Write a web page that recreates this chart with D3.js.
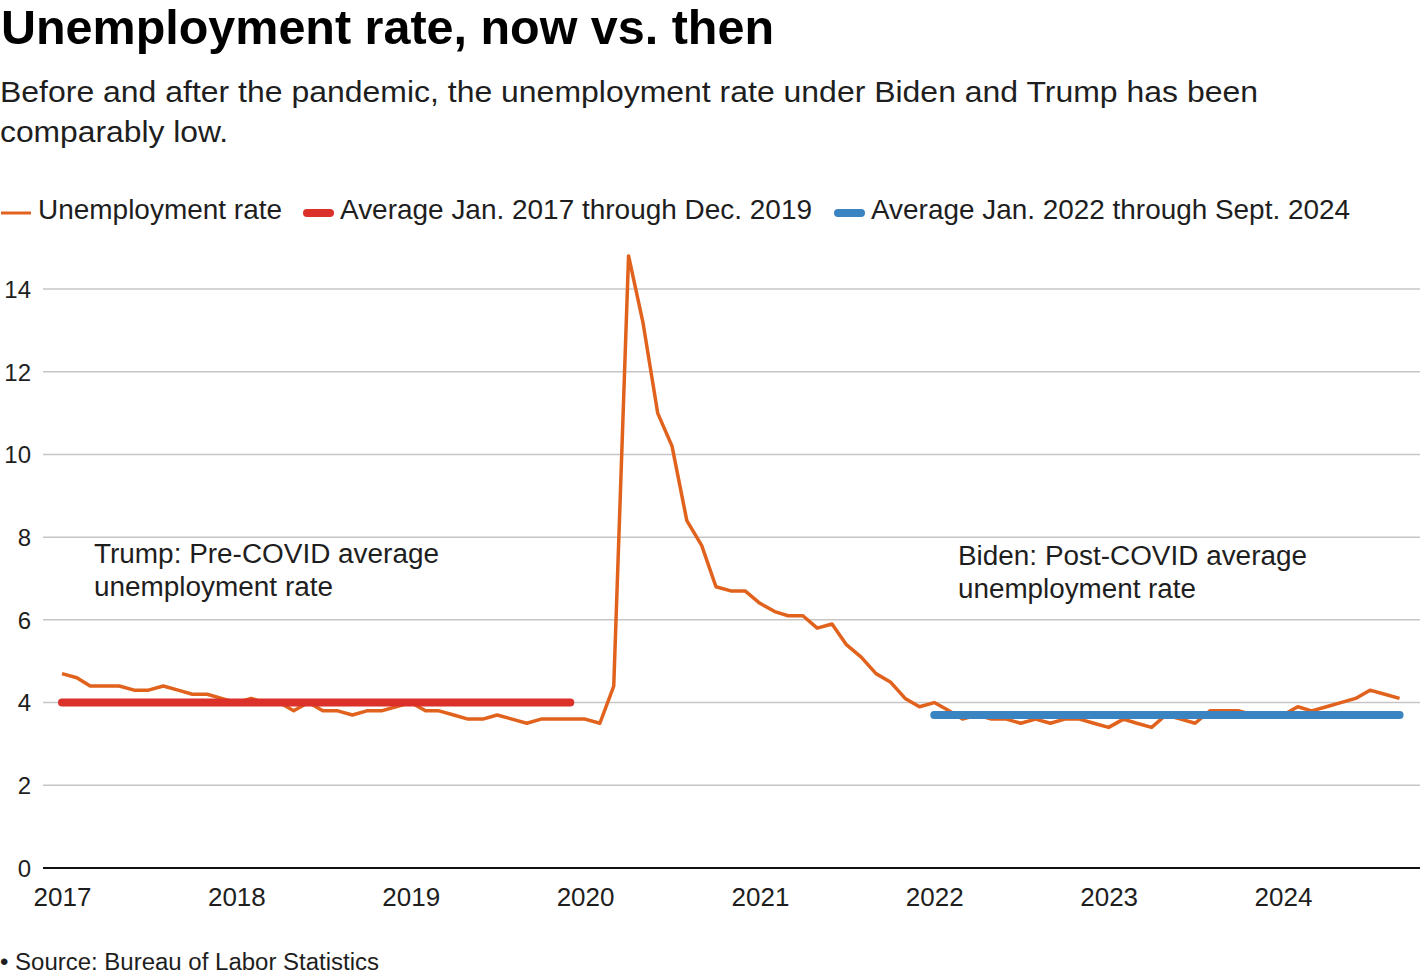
<!DOCTYPE html>
<html>
<head>
<meta charset="utf-8">
<script src="https://cdn.jsdelivr.net/npm/d3@7"></script>
<style>
  body { margin: 0; background: #fff; }
  svg { font-family: "Liberation Sans", Arial, Helvetica, sans-serif; }
</style>
</head>
<body>
<svg id="chart" width="1420" height="980"></svg>
<script>
// monthly unemployment rate, Jan. 2017 - Sept. 2024 (BLS, seasonally adjusted)
const startMonth = new Date(2017, 0, 1);
const rate = [
  4.7, 4.6, 4.4, 4.4, 4.4, 4.3, 4.3, 4.4, 4.3, 4.2, 4.2, 4.1,   // 2017
  4.0, 4.1, 4.0, 4.0, 3.8, 4.0, 3.8, 3.8, 3.7, 3.8, 3.8, 3.9,   // 2018
  4.0, 3.8, 3.8, 3.7, 3.6, 3.6, 3.7, 3.6, 3.5, 3.6, 3.6, 3.6,   // 2019
  3.6, 3.5, 4.4, 14.8, 13.2, 11.0, 10.2, 8.4, 7.8, 6.8, 6.7, 6.7, // 2020
  6.4, 6.2, 6.1, 6.1, 5.8, 5.9, 5.4, 5.1, 4.7, 4.5, 4.1, 3.9,   // 2021
  4.0, 3.8, 3.6, 3.7, 3.6, 3.6, 3.5, 3.6, 3.5, 3.6, 3.6, 3.5,   // 2022
  3.4, 3.6, 3.5, 3.4, 3.7, 3.6, 3.5, 3.8, 3.8, 3.8, 3.7, 3.7,   // 2023
  3.7, 3.9, 3.8, 3.9, 4.0, 4.1, 4.3, 4.2, 4.1                   // 2024
];

// averages: [first month, last month, value]
const trumpAvg = [new Date(2017, 0, 1), new Date(2019, 11, 1), 4.0];
const bidenAvg = [new Date(2022, 0, 1), new Date(2024, 8, 1), 3.7];

const yTicks = [0, 2, 4, 6, 8, 10, 12, 14];
const xTickYears = [2017, 2018, 2019, 2020, 2021, 2022, 2023, 2024];

const legendItems = [
  { label: "Unemployment rate", color: "#e0621d", width: 3 },
  { label: "Average Jan. 2017 through Dec. 2019", color: "#dc312a", width: 8 },
  { label: "Average Jan. 2022 through Sept. 2024", color: "#3a84c1", width: 8 }
];

const orange = "#e0621d", red = "#dc312a", blue = "#3a84c1";
const ink = "#1e1e1e";

const svg = d3.select("#chart");

// squeeze a text to the width
function fit(sel, w) {
  sel.attr("textLength", w).attr("lengthAdjust", "spacingAndGlyphs");
  return sel;
}

// titles
fit(svg.append("text").attr("x", 1).attr("y", 44)
  .attr("font-size", 48).attr("font-weight", "bold").attr("fill", "#000")
  .text("Unemployment rate, now vs. then"), 773);

fit(svg.append("text").attr("x", 0).attr("y", 102)
  .attr("font-size", 29.5).attr("fill", ink)
  .text("Before and after the pandemic, the unemployment rate under Biden and Trump has been"), 1258);
fit(svg.append("text").attr("x", 0).attr("y", 142)
  .attr("font-size", 29.5).attr("fill", ink)
  .text("comparably low."), 228);

// legend
const legendX = [0, 303, 834];
const legendW = [244, 472, 479];
const legend = svg.append("g");
legendItems.forEach((d, i) => {
  legend.append("line")
    .attr("x1", legendX[i] + (d.width > 4 ? 4 : 1)).attr("x2", legendX[i] + (d.width > 4 ? 27 : 31))
    .attr("y1", 213).attr("y2", 213)
    .attr("stroke", d.color).attr("stroke-width", d.width)
    .attr("stroke-linecap", d.width > 4 ? "round" : "butt");
  fit(legend.append("text")
    .attr("x", legendX[i] + 38 - (i > 0 ? 1 : 0)).attr("y", 219)
    .attr("font-size", 27.5).attr("fill", ink)
    .text(d.label), legendW[i]);
});

// scales
const x = d3.scaleTime()
  .domain([new Date(2017, 0, 1), new Date(2024, 0, 1)])
  .range([62, 1283]);
const y = d3.scaleLinear().domain([0, 14]).range([868, 289]);

const months = rate.map((v, i) => ({ date: d3.timeMonth.offset(startMonth, i), value: v }));

// gridlines
svg.append("g").selectAll("line")
  .data(yTicks.filter(t => t > 0))
  .enter().append("line")
  .attr("x1", 43).attr("x2", 1420)
  .attr("y1", d => y(d)).attr("y2", d => y(d))
  .attr("stroke", "#c6c6c6").attr("stroke-width", 1.5);

// y axis labels
const yAxis = svg.append("g")
  .attr("transform", "translate(31,0)")
  .call(d3.axisLeft(y).tickValues(yTicks).tickSize(0).tickPadding(0));
yAxis.select(".domain").remove();
yAxis.selectAll("text")
  .attr("font-family", "Liberation Sans, Arial, sans-serif")
  .attr("font-size", 24).attr("fill", ink).attr("dy", "0.35em");

// x axis
const xAxis = svg.append("g")
  .attr("transform", "translate(0,868)")
  .call(d3.axisBottom(x)
    .tickValues(xTickYears.map(yr => new Date(yr, 0, 1)))
    .tickFormat(d3.timeFormat("%Y"))
    .tickSize(0).tickPadding(0));
xAxis.select(".domain").remove();
xAxis.selectAll("text")
  .attr("font-family", "Liberation Sans, Arial, sans-serif")
  .attr("font-size", 26).attr("fill", ink).attr("dy", 0).attr("y", 38);

// zero line
svg.append("line")
  .attr("x1", 43).attr("x2", 1420)
  .attr("y1", y(0)).attr("y2", y(0))
  .attr("stroke", "#111").attr("stroke-width", 2);

// unemployment line
const line = d3.line().x(d => x(d.date)).y(d => y(d.value));
svg.append("path")
  .datum(months)
  .attr("d", line)
  .attr("fill", "none")
  .attr("stroke", orange)
  .attr("stroke-width", 3.5)
  .attr("stroke-linejoin", "round");

// average lines
[[trumpAvg, red], [bidenAvg, blue]].forEach(([a, c]) => {
  svg.append("line")
    .attr("x1", x(a[0])).attr("x2", x(a[1]))
    .attr("y1", y(a[2])).attr("y2", y(a[2]))
    .attr("stroke", c).attr("stroke-width", 8)
    .attr("stroke-linecap", "round");
});

// annotations
const notes = [
  { x: 94, y: 563, text: "Trump: Pre-COVID average", w: 345 },
  { x: 94, y: 596, text: "unemployment rate", w: 239 },
  { x: 958, y: 565, text: "Biden: Post-COVID average", w: 349 },
  { x: 958, y: 598, text: "unemployment rate", w: 238 }
];
notes.forEach(n => {
  fit(svg.append("text").attr("x", n.x).attr("y", n.y)
    .attr("font-size", 27).attr("fill", ink).text(n.text), n.w);
});

// source
fit(svg.append("text").attr("x", 0).attr("y", 970)
  .attr("font-size", 23).attr("fill", ink)
  .text("\u2022 Source: Bureau of Labor Statistics"), 379);
</script>
</body>
</html>
